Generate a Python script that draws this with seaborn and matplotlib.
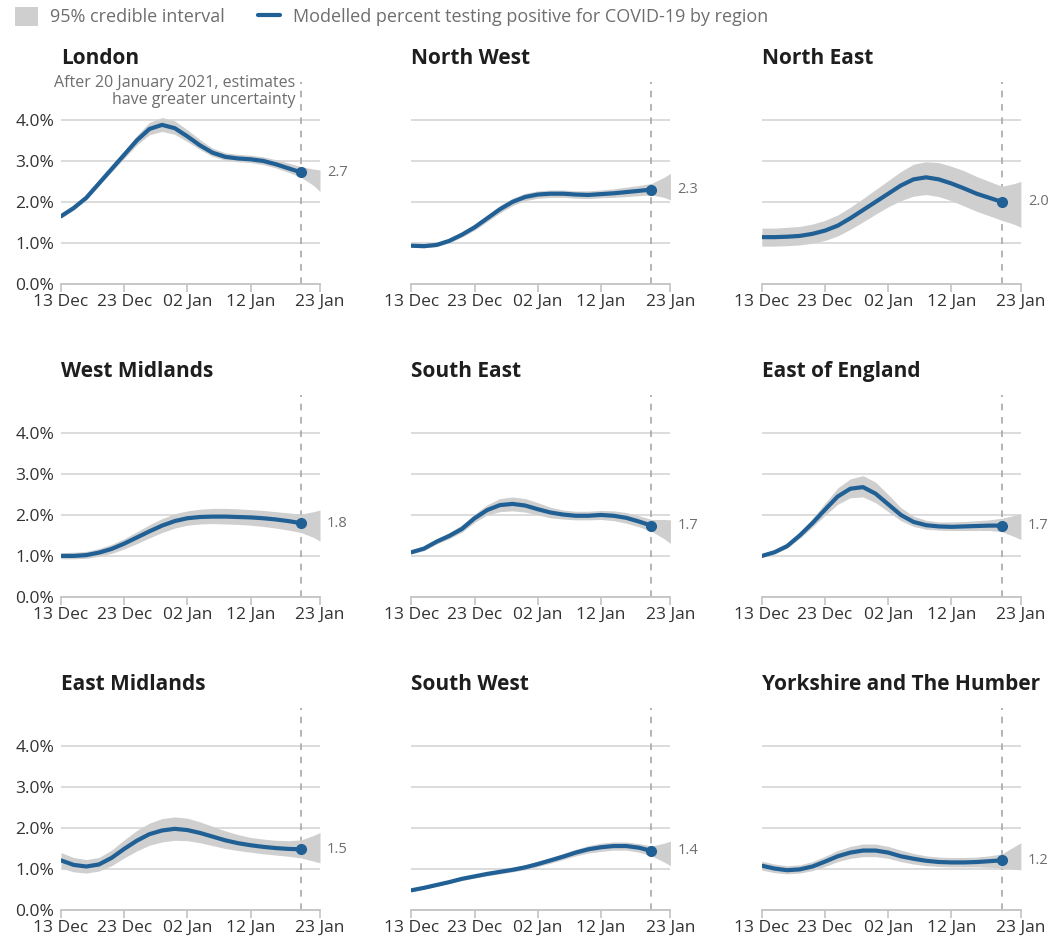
import matplotlib
matplotlib.use("Agg")
import matplotlib.pyplot as plt
from matplotlib.patches import Patch
from matplotlib.lines import Line2D
import pandas as pd
import seaborn as sns

# x values: modelled line every 2 days to 20 Jan, band runs on to 23 Jan
line_dates = pd.date_range("2020-12-13", "2021-01-20", freq="2D")
band_dates = line_dates.append(pd.DatetimeIndex(["2021-01-22", "2021-01-23"]))

tick_dates = pd.to_datetime(["2020-12-13", "2020-12-23", "2021-01-02", "2021-01-12", "2021-01-23"])
tick_labels = ["13 Dec", "23 Dec", "02 Jan", "12 Jan", "23 Jan"]
y_ticks = [0, 1, 2, 3, 4]
y_labels = ["0.0%", "1.0%", "2.0%", "3.0%", "4.0%"]
cutoff = pd.Timestamp("2021-01-20")

regions = ["London", "North West", "North East",
           "West Midlands", "South East", "East of England",
           "East Midlands", "South West", "Yorkshire and The Humber"]

london_pct = [1.65, 1.85, 2.10, 2.45, 2.80, 3.15, 3.50, 3.78, 3.88, 3.80,
              3.60, 3.38, 3.20, 3.10, 3.06, 3.04, 3.00, 2.92, 2.82, 2.72]
london_lo = [1.60, 1.80, 2.05, 2.39, 2.73, 3.06, 3.39, 3.64, 3.72, 3.65, 3.47,
             3.28, 3.11, 3.02, 2.98, 2.96, 2.91, 2.83, 2.72, 2.60, 2.40, 2.25]
london_hi = [1.70, 1.90, 2.16, 2.52, 2.88, 3.24, 3.62, 3.94, 4.06, 3.98, 3.76,
             3.52, 3.31, 3.20, 3.16, 3.14, 3.10, 3.03, 2.95, 2.86, 2.80, 2.78]

nw_pct = [0.93, 0.92, 0.95, 1.05, 1.20, 1.38, 1.60, 1.82, 2.00, 2.12,
          2.18, 2.20, 2.20, 2.18, 2.17, 2.19, 2.21, 2.24, 2.27, 2.30]
nw_lo = [0.89, 0.88, 0.91, 1.00, 1.14, 1.31, 1.52, 1.73, 1.91, 2.03, 2.09,
         2.11, 2.11, 2.09, 2.08, 2.10, 2.11, 2.13, 2.15, 2.17, 2.11, 2.05]
nw_hi = [0.97, 0.96, 0.99, 1.10, 1.26, 1.45, 1.68, 1.91, 2.09, 2.21, 2.27,
         2.29, 2.29, 2.27, 2.27, 2.29, 2.32, 2.36, 2.40, 2.45, 2.60, 2.70]

ne_pct = [1.14, 1.14, 1.15, 1.17, 1.22, 1.30, 1.42, 1.60, 1.80, 2.00,
          2.20, 2.40, 2.55, 2.60, 2.55, 2.45, 2.33, 2.20, 2.10, 2.00]
ne_lo = [0.92, 0.92, 0.93, 0.95, 0.99, 1.06, 1.17, 1.33, 1.51, 1.70, 1.88,
         2.03, 2.14, 2.18, 2.13, 2.03, 1.90, 1.77, 1.66, 1.55, 1.45, 1.38]
ne_hi = [1.36, 1.36, 1.38, 1.40, 1.46, 1.55, 1.68, 1.87, 2.08, 2.30, 2.52,
         2.74, 2.92, 2.98, 2.96, 2.87, 2.76, 2.62, 2.50, 2.38, 2.45, 2.50]

wm_pct = [1.00, 1.00, 1.02, 1.08, 1.17, 1.30, 1.45, 1.60, 1.74, 1.85,
          1.92, 1.95, 1.96, 1.96, 1.95, 1.94, 1.92, 1.89, 1.85, 1.80]
wm_lo = [0.93, 0.93, 0.94, 0.99, 1.06, 1.17, 1.30, 1.44, 1.57, 1.68, 1.75,
         1.78, 1.79, 1.78, 1.77, 1.75, 1.72, 1.68, 1.63, 1.57, 1.45, 1.36]
wm_hi = [1.08, 1.09, 1.11, 1.18, 1.28, 1.42, 1.59, 1.76, 1.91, 2.03, 2.10,
         2.14, 2.16, 2.16, 2.15, 2.13, 2.11, 2.08, 2.05, 2.02, 2.08, 2.12]

se_pct = [1.09, 1.18, 1.35, 1.49, 1.66, 1.92, 2.12, 2.24, 2.27, 2.23,
          2.14, 2.06, 2.01, 1.98, 1.98, 2.00, 1.98, 1.93, 1.84, 1.74]
se_lo = [1.05, 1.13, 1.29, 1.42, 1.58, 1.82, 2.00, 2.08, 2.10, 2.07, 2.00,
         1.93, 1.90, 1.88, 1.88, 1.89, 1.86, 1.80, 1.71, 1.60, 1.42, 1.30]
se_hi = [1.13, 1.23, 1.41, 1.57, 1.76, 2.02, 2.25, 2.40, 2.44, 2.40, 2.30,
         2.19, 2.12, 2.09, 2.09, 2.11, 2.10, 2.06, 1.98, 1.89, 1.89, 1.88]

ee_pct = [1.00, 1.09, 1.24, 1.50, 1.80, 2.13, 2.45, 2.64, 2.68, 2.52,
          2.26, 2.00, 1.83, 1.75, 1.72, 1.71, 1.72, 1.73, 1.74, 1.74]
ee_lo = [0.97, 1.05, 1.19, 1.43, 1.70, 1.99, 2.26, 2.42, 2.44, 2.30, 2.08,
         1.86, 1.72, 1.65, 1.63, 1.62, 1.62, 1.62, 1.62, 1.59, 1.47, 1.40]
ee_hi = [1.04, 1.14, 1.30, 1.58, 1.91, 2.29, 2.66, 2.88, 2.96, 2.80, 2.50,
         2.18, 1.97, 1.87, 1.83, 1.83, 1.84, 1.86, 1.88, 1.92, 1.99, 2.03]

em_pct = [1.21, 1.10, 1.06, 1.11, 1.27, 1.49, 1.69, 1.85, 1.94, 1.98,
          1.95, 1.88, 1.79, 1.70, 1.63, 1.58, 1.54, 1.51, 1.49, 1.48]
em_lo = [1.02, 0.93, 0.90, 0.95, 1.08, 1.27, 1.44, 1.58, 1.66, 1.70, 1.69,
         1.64, 1.57, 1.50, 1.45, 1.41, 1.37, 1.34, 1.31, 1.27, 1.19, 1.15]
em_hi = [1.40, 1.28, 1.23, 1.28, 1.46, 1.71, 1.94, 2.12, 2.23, 2.27, 2.24,
         2.15, 2.04, 1.93, 1.84, 1.77, 1.73, 1.70, 1.69, 1.71, 1.82, 1.89]

sw_pct = [0.48, 0.54, 0.61, 0.68, 0.76, 0.82, 0.88, 0.93, 0.98, 1.04,
          1.12, 1.21, 1.30, 1.40, 1.48, 1.53, 1.56, 1.56, 1.52, 1.44]
sw_lo = [0.46, 0.51, 0.58, 0.65, 0.72, 0.78, 0.83, 0.88, 0.93, 0.98, 1.06,
         1.14, 1.23, 1.32, 1.39, 1.43, 1.46, 1.46, 1.41, 1.32, 1.17, 1.08]
sw_hi = [0.51, 0.57, 0.64, 0.72, 0.80, 0.87, 0.93, 0.98, 1.04, 1.10, 1.19,
         1.28, 1.38, 1.48, 1.57, 1.63, 1.66, 1.66, 1.62, 1.56, 1.63, 1.68]

yh_pct = [1.08, 1.01, 0.97, 0.99, 1.06, 1.18, 1.31, 1.40, 1.45, 1.45,
          1.40, 1.31, 1.25, 1.20, 1.17, 1.16, 1.16, 1.17, 1.19, 1.21]
yh_lo = [0.97, 0.91, 0.88, 0.90, 0.96, 1.06, 1.18, 1.26, 1.30, 1.30, 1.26,
         1.18, 1.12, 1.08, 1.06, 1.05, 1.05, 1.05, 1.04, 1.02, 0.99, 0.98]
yh_hi = [1.19, 1.12, 1.08, 1.10, 1.18, 1.31, 1.45, 1.55, 1.61, 1.61, 1.55,
         1.46, 1.38, 1.32, 1.29, 1.28, 1.28, 1.29, 1.32, 1.37, 1.55, 1.64]

series = [(london_pct, london_lo, london_hi), (nw_pct, nw_lo, nw_hi), (ne_pct, ne_lo, ne_hi),
          (wm_pct, wm_lo, wm_hi), (se_pct, se_lo, se_hi), (ee_pct, ee_lo, ee_hi),
          (em_pct, em_lo, em_hi), (sw_pct, sw_lo, sw_hi), (yh_pct, yh_lo, yh_hi)]

BLUE = "#206095"
BAND = "#cfcfcf"
GRID = "#d9d9d9"
TEXT = "#333333"
MUTED = "#6e6e6e"

sns.set_theme(style="white")
plt.rcParams["font.family"] = ["Open Sans", "DejaVu Sans"]

fig, axes = plt.subplots(3, 3, figsize=(10.59, 9.41), dpi=100)
fig.subplots_adjust(left=0.0576, right=0.964, top=0.913, bottom=0.033,
                    wspace=0.353, hspace=0.55)

for i, (ax, name, (pct, lo, hi)) in enumerate(zip(axes.flat, regions, series)):
    line_df = pd.DataFrame({"date": line_dates, "pct": pct})
    ax.fill_between(band_dates, lo, hi, color=BAND, lw=0, zorder=2)
    sns.lineplot(data=line_df, x="date", y="pct", ax=ax, color=BLUE, lw=3,
                 solid_capstyle="round", solid_joinstyle="round", zorder=3)
    ax.plot(line_dates[-1], pct[-1], "o", ms=7, color=BLUE, zorder=4)
    ax.axvline(cutoff, color="#a8a8a8", lw=1.2, ls=(0, (4, 4)), zorder=1)

    ax.set_xlim(tick_dates[0], tick_dates[-1])
    ax.set_ylim(0, 4.93)
    ax.set_yticks(y_ticks)
    ax.yaxis.grid(True, color=GRID, lw=1.3, zorder=0)
    ax.set_axisbelow(True)
    if i % 3 == 0:
        ax.set_yticklabels(y_labels)
    else:
        ax.set_yticklabels([])
    ax.set_xticks(tick_dates)
    ax.set_xticklabels(tick_labels)
    ax.tick_params(axis="x", length=6, width=1.2, color="#c4c4c4", pad=1,
                   labelsize=12.5, labelcolor=TEXT, bottom=True)
    ax.tick_params(axis="y", length=0, pad=5, labelsize=12.5, labelcolor=TEXT)
    for side in ["top", "right", "left"]:
        ax.spines[side].set_visible(False)
    ax.spines["bottom"].set_color("#c4c4c4")
    ax.spines["bottom"].set_linewidth(1.3)
    ax.set_xlabel("")
    ax.set_ylabel("")

    ax.set_title(name, loc="left", fontsize=15, fontweight="bold",
                 color="#1e1e1e", pad=13)
    ax.annotate(f"{pct[-1]:.1f}", xy=(tick_dates[-1], pct[-1]), xytext=(5, 0),
                textcoords="offset points", ha="left", va="center",
                fontsize=10.5, color=MUTED, annotation_clip=False)

axes[0, 0].annotate("After 20 January 2021, estimates\nhave greater uncertainty",
                    xy=(cutoff, 1), xycoords=("data", "axes fraction"),
                    xytext=(-4, 5), textcoords="offset points",
                    ha="right", va="top", fontsize=11.5, color=MUTED,
                    linespacing=1.1, annotation_clip=False)

handles = [Patch(facecolor=BAND, edgecolor="none"),
           Line2D([], [], color=BLUE, lw=3)]
fig.legend(handles, ["95% credible interval",
                     "Modelled percent testing positive for COVID-19 by region"],
           loc="upper left", bbox_to_anchor=(0.004, 1.004), ncol=2, frameon=False,
           fontsize=13, labelcolor=MUTED, handlelength=1.25, handleheight=1.2,
           handletextpad=0.7, columnspacing=1.8, borderaxespad=0.2)

fig.savefig("out.png", dpi=100)
